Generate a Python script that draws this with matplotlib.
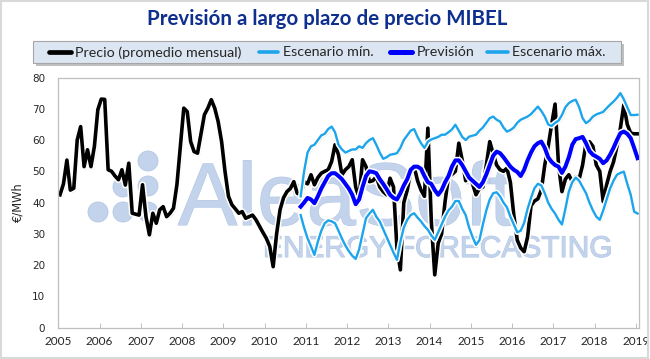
import numpy as np
import matplotlib
matplotlib.use("Agg")
import matplotlib.pyplot as plt
import matplotlib.patheffects as pe
from matplotlib.lines import Line2D
from matplotlib.patches import Ellipse, Rectangle

# ------------------------------------------------------------------
# Data (monthly, EUR/MWh)
# ------------------------------------------------------------------
START_YEAR = 2005
FORECAST_START = 70  # month index of Nov 2010

PRECIO = [
    42.5, 46, 53.6, 44, 44.6, 60, 64.3, 51.5, 56.9, 51.5, 58, 69.7,
    73.1, 73, 50.5, 50, 48.5, 47.3, 50.5, 45.6, 52.6, 36.6, 36.3, 36,
    45.7, 35.5, 29.7, 36.6, 33.4, 37.7, 38.7, 35.5, 36.6, 38.2, 45.7, 58,
    70.2, 69.1, 59.5, 56.3, 55.8, 62, 68.1, 70.2, 72.9, 70.2, 65.9, 59.5,
    49.9, 42, 39.3, 38, 36.6, 37.1, 35, 35.5, 36, 34.5, 32.5, 30.5,
    28.6, 26, 19.5, 30, 37.7, 41.5, 43.5, 44.5, 46.7, 43, 42.5, 46.7,
    46, 48.9, 45.7, 48, 49.4, 50, 50.5, 53.1, 58.5, 55.3, 48.9, 50.5,
    51.5, 53.7, 45, 41.4, 53.7, 51.5, 46.7, 47, 48.3, 45, 43.5, 42.5,
    47.8, 45, 25.5, 18.5, 40, 44, 49.9, 51.5, 47, 44, 42, 63.8,
    34, 16.9, 27, 30, 40.3, 48.3, 49, 50, 59, 53.5, 47, 48.5,
    46, 42.5, 44.5, 45, 52, 59.5, 55.6, 52, 50.5, 50, 51, 46.5,
    36, 28, 25.5, 24.3, 29, 39, 40.5, 41.2, 44, 52, 58, 65,
    71.5, 52, 43.5, 47.5, 48.9, 46.7, 48.3, 47.5, 52, 59, 59.5, 58,
    52, 50, 40.3, 45.7, 49.9, 53, 58, 63.8, 71.3, 65, 62.2, 62,
    62,
]

PREVISION = [
    38.7, 40, 41.5, 41, 39.8, 42, 44.5, 46.5, 48.5, 49.4,
    49.4, 48.5, 47.5, 46, 44.5, 42.5, 39.5, 41, 45, 48.5,
    50, 49.8, 49.4, 47.5, 46, 44.3, 42.5, 41.5, 41, 43,
    45.5, 47.5, 50.5, 51.5, 51.5, 50.8, 48.5, 46.5, 46, 44,
    42.5, 44, 46.5, 48.5, 51.5, 53.5, 53.5, 52, 50, 48,
    47, 46, 45, 46.5, 49, 52, 55, 56.3, 55.8, 54.5,
    53, 51.5, 50.5, 49.8, 48.5, 50.5, 53.5, 56, 58, 59,
    59.5, 57.5, 54.5, 53, 52, 51.5, 49.5, 51.5, 54.5, 58.5,
    60.3, 60.6, 61, 59, 56.5, 55.3, 54.7, 54, 52.6, 53.5,
    55.3, 57.5, 60, 62.2, 62.7, 62, 60.6, 57.5, 54.2,
]

ESC_MAX = [
    42, 50, 56, 58, 58.5, 60, 61.5, 62, 63.5, 64.3,
    62.5, 58.5, 57, 56, 56.5, 57, 57, 58, 57.5, 59,
    60, 60.6, 58.5, 56, 54, 54.5, 55.3, 55.5, 55.8, 57.5,
    60, 61.5, 63, 63.5, 61, 59, 57.5, 59.5, 60.2, 60.6,
    61, 61.7, 61.7, 62.5, 63.4, 64.9, 63, 61, 60, 61.1,
    61.4, 61.7, 63, 64, 65.5, 67, 67.5, 66.5, 65.9, 64,
    62.7, 63.2, 64, 65.5, 66.5, 67, 67.5, 68.3, 69.5, 70.7,
    69.3, 67.5, 65, 64.5, 65.5, 66.2, 68, 70.5, 71.8, 72.5,
    72.9, 70.5, 67, 65.4, 66.2, 67.5, 68.2, 68.6, 69, 70.2,
    71.3, 72.3, 73.5, 75, 73, 70.5, 68, 68, 68.1,
]

ESC_MIN = [
    36, 32, 28.6, 26, 23.3, 27.5, 31, 33.4, 34.3, 34,
    33.4, 31, 28.5, 26.3, 24.5, 23, 22, 25, 30, 35,
    36.5, 37.7, 35.5, 34, 31.5, 29, 26.5, 24, 21.7, 27.5,
    32, 34.5, 36, 36.6, 35.2, 34, 32.5, 31.3, 29.5, 28.1,
    30.5, 33, 35.5, 37.5, 38.7, 40.5, 40.5, 38, 36, 32,
    29, 26.5, 28, 33, 37.5, 41, 43, 43.3, 42, 40,
    38.5, 35.5, 33, 30.5, 31, 33.5, 38, 41.5, 44.6, 46,
    45.5, 43, 40, 38, 36.5, 34.5, 33, 38, 43.5, 46.5,
    48, 47, 45, 43, 40, 37.5, 35.5, 34.5, 37.5, 41,
    44.5, 47, 48.9, 49.5, 49.9, 46, 42.5, 37.1, 36.5,
]

YEARS = list(range(2005, 2020))
Y_TICKS = list(range(0, 81, 10))
LEGEND_LABELS = ["Precio (promedio mensual)", "Escenario mín.", "Previsión", "Escenario máx."]

# ------------------------------------------------------------------
# Style
# ------------------------------------------------------------------
W, H = 650, 359
TITLE_COLOR = "#0E2F8E"
BLACK = "#000000"
BLUE = "#0000FF"
CYAN = "#1DA5EC"
AXIS_GRAY = "#BFBFBF"
WM_COLOR = "#C3D3EB"
WM_EDGE = "#B3C7E5"
LEGEND_BG = "#DCE6F2"
TEXT = "#262626"


def fx(px):
    return px / W


def fy(py):
    return 1 - py / H


def glow(lw):
    return [
        pe.SimpleLineShadow(offset=(0.9, -0.9), shadow_color="#D9A877", alpha=0.45),
        pe.Stroke(linewidth=lw + 2.2, foreground="white"),
        pe.Normal(),
    ]


def month_x(idx):
    return START_YEAR + (np.asarray(idx) + 0.5) / 12.0


fig = plt.figure(figsize=(W / 100, H / 100), dpi=100, facecolor="white")
fig.patches.append(Rectangle((0.002, 0.003), 0.995, 0.994, transform=fig.transFigure,
                             facecolor="none", edgecolor="#D9D9D9", lw=1.5))

ax = fig.add_axes([fx(58.3), fy(327.7), fx(639.3) - fx(58.3), fy(77.5) - fy(327.7)])
ax.patch.set_alpha(0)

# Watermark (company logo behind the plot)
for cx, cy in [(148, 161), (123, 187), (148, 186), (98, 212), (123, 212), (148, 212)]:
    ax.add_patch(Ellipse((fx(cx), fy(cy)), 2 * 10 / W, 2 * 10 / H,
                         transform=fig.transFigure, facecolor=WM_COLOR,
                         edgecolor=WM_EDGE, lw=0.6, zorder=0.5, clip_on=False))
logo_fx = [pe.Stroke(linewidth=0.8, foreground=WM_EDGE), pe.Normal()]
ax.text(fx(178), fy(225), "AleaSoft", transform=fig.transFigure,
        family="Liberation Sans", fontsize=64, color=WM_COLOR,
        ha="left", va="baseline", zorder=0.6, clip_on=False, path_effects=logo_fx)
ax.text(fx(263), fy(257), "ENERGY FORECASTING", transform=fig.transFigure,
        family="Liberation Sans", fontsize=21.5, color=WM_COLOR,
        ha="left", va="baseline", zorder=0.6, clip_on=False, path_effects=logo_fx)

# Series (Excel drawing order)
x_hist = month_x(np.arange(len(PRECIO)))
x_fc = month_x(np.arange(FORECAST_START, FORECAST_START + len(PREVISION)))

ax.plot(x_hist, PRECIO, color=BLACK, lw=2.6, zorder=2,
        solid_joinstyle="round", path_effects=glow(2.6))
ax.plot(x_fc, ESC_MIN, color=CYAN, lw=1.7, zorder=3,
        solid_joinstyle="round", path_effects=glow(1.7))
ax.plot(x_fc, PREVISION, color=BLUE, lw=2.9, zorder=4,
        solid_joinstyle="round", path_effects=glow(2.9))
ax.plot(x_fc, ESC_MAX, color=CYAN, lw=1.7, zorder=5,
        solid_joinstyle="round", path_effects=glow(1.7))

ax.set_xlim(START_YEAR, START_YEAR + len(PRECIO) / 12.0)
ax.set_ylim(0, 80)
ax.set_xticks(YEARS)
ax.set_xticklabels([str(y) for y in YEARS], family="Lato", fontsize=8.5, color=TEXT)
ax.set_yticks(Y_TICKS)
ax.set_yticklabels([str(v) for v in Y_TICKS], family="DejaVu Sans", fontsize=7.5, color=TEXT)
ax.tick_params(axis="x", direction="in", length=3.5, width=0.7, color=AXIS_GRAY, pad=6)
ax.tick_params(axis="y", length=0, pad=9.5)
for s in ax.spines.values():
    s.set_color(AXIS_GRAY)
    s.set_linewidth(0.9)

fig.text(fx(18), fy(202), "€/MWh", rotation=90, ha="center", va="center",
         family="DejaVu Sans", fontsize=8.3, color=TEXT)

fig.text(fx(327), fy(19), "Previsión a largo plazo de precio MIBEL",
         ha="center", va="center", family="Lato", fontweight="bold",
         fontsize=14.8, color=TITLE_COLOR)

# ------------------------------------------------------------------
# Legend box laid out like the Excel one (top, full width)
# ------------------------------------------------------------------
box_l, box_r, box_t, box_b = 33, 621, 41, 63
fig.patches.append(Rectangle((fx(box_l + 2.5), fy(box_b + 2.5)), fx(box_r - box_l), fy(box_t) - fy(box_b),
                             transform=fig.transFigure, facecolor="#8C8C8C", alpha=0.55,
                             edgecolor="none", zorder=1))
fig.patches.append(Rectangle((fx(box_l), fy(box_b)), fx(box_r - box_l), fy(box_t) - fy(box_b),
                             transform=fig.transFigure, facecolor=LEGEND_BG,
                             edgecolor="#A6A6A6", lw=0.8, zorder=1.1))

leg_y = 52
leg_items = [
    (BLACK, 3.4, (49, 71), 75),
    (CYAN, 2.6, (259, 278), 283),
    (BLUE, 3.6, (390, 412), 417),
    (CYAN, 2.6, (487, 508), 512),
]
for (color, lw, (h0, h1), tx), label in zip(leg_items, LEGEND_LABELS):
    fig.lines.append(Line2D([fx(h0), fx(h1)], [fy(leg_y), fy(leg_y)], transform=fig.transFigure,
                            color=color, lw=lw, solid_capstyle="round", zorder=2))
    fig.text(fx(tx), fy(leg_y + 0.5), label, ha="left", va="center",
             family="Lato", fontsize=10.3, color=TEXT, zorder=3)

fig.savefig("out.png", dpi=100, facecolor="white")
